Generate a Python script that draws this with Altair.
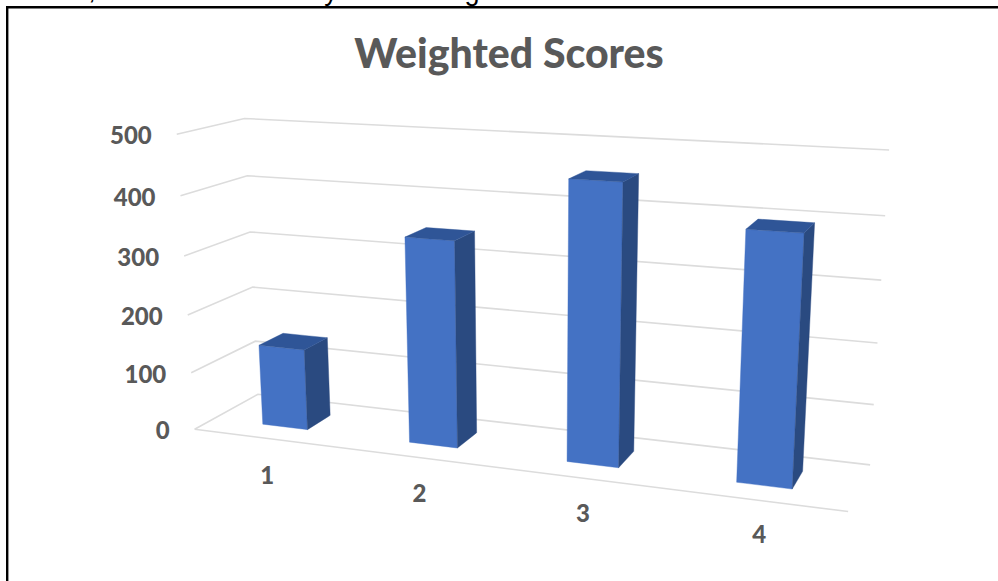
import altair as alt
import numpy as np
import pandas as pd

# Chart values
categories = ["1", "2", "3", "4"]
weighted_scores = [140, 345, 454, 395]
tick_values = [0, 100, 200, 300, 400, 500]
title_text = "Weighted Scores"

# Box proportions for the 3D columns, as fractions of the floor
COLUMN_HALF_WIDTH = 0.039
COLUMN_DEPTH = (0.30, 0.69)

# Camera calibration: (across, depth, value) -> screen position
calibration = [
    (0, 0, 0, 195, 429), (0, 1, 0, 258, 393), (1, 1, 0, 870, 465), (1, 0, 0, 848, 512),
    (0, 0, 500, 177, 134), (0, 1, 500, 245, 118), (1, 1, 500, 889, 150),
    (0, 0, 400, 180, 196), (1, 1, 400, 885, 216), (1, 1, 100, 874, 404),
    (0, 1, 100, 255, 343), (0, 1, 400, 247, 176), (1, 1, 300, 881, 280), (1, 1, 200, 878, 343),
]
rows = []
for u, d, v, px, py in calibration:
    h = [u, d, v / 500, 1]
    rows.append(h + [0, 0, 0, 0] + [-px * c for c in h])
    rows.append([0, 0, 0, 0] + h + [-py * c for c in h])
CAMERA = np.linalg.svd(np.array(rows, dtype=float))[2][-1].reshape(3, 4)


def project(u, d, v):
    q = CAMERA @ np.array([u, d, v / 500, 1.0])
    return float(q[0] / q[2]), float(q[1] / q[2])


def face_rows(corners, name):
    """Turn a convex quad into x / y / y2 rows an area mark can fill."""
    xs = sorted({round(p[0], 3) for p in corners})
    out = []
    n = len(corners)
    for x in xs:
        hits = []
        for i in range(n):
            (x0, y0), (x1, y1) = corners[i], corners[(i + 1) % n]
            lo, hi = min(x0, x1), max(x0, x1)
            if lo - 0.002 <= x <= hi + 0.002:
                if abs(x1 - x0) < 1e-6:
                    hits += [y0, y1]
                else:
                    hits.append(y0 + (y1 - y0) * (x - x0) / (x1 - x0))
        out.append({"face": name, "x": x, "y": min(hits), "y2": max(hits)})
    return out


# Grid lines on the side wall and back wall, plus the floor's front edge
grid = []
for v in tick_values:
    for key, pt in enumerate([(0, 0, v), (0, 1, v), (1, 1, v)]):
        x, y = project(*pt)
        grid.append({"line": f"g{v}", "k": key, "x": x, "y": y})
for key, pt in enumerate([(0, 0, 0), (1, 0, 0)]):
    x, y = project(*pt)
    grid.append({"line": "front", "k": key, "x": x, "y": y})
grid_df = pd.DataFrame(grid)

# Column faces
front, side, top = [], [], []
d0, d1 = COLUMN_DEPTH
for i, value in enumerate(weighted_scores):
    c = (i + 0.5) / len(weighted_scores)
    u0, u1 = c - COLUMN_HALF_WIDTH, c + COLUMN_HALF_WIDTH
    front += face_rows([project(u0, d0, value), project(u1, d0, value),
                        project(u1, d0, 0), project(u0, d0, 0)], f"f{i}")
    side += face_rows([project(u1, d0, value), project(u1, d1, value),
                       project(u1, d1, 0), project(u1, d0, 0)], f"s{i}")
    top += face_rows([project(u0, d0, value), project(u0, d1, value),
                      project(u1, d1, value), project(u1, d0, value)], f"t{i}")

# Tick labels placed relative to the projected axis edges
tick_df = pd.DataFrame([
    {"label": str(v), "x": project(0, 0, v)[0] - 25, "y": project(0, 0, v)[1] + 3}
    for v in tick_values
])
cat_df = pd.DataFrame([
    {"label": name,
     "x": project((i + 0.5) / 4, 0, 0)[0] + 1 + i,
     "y": project((i + 0.5) / 4, 0, 0)[1] + 39 - i}
    for i, name in enumerate(categories)
])
title_df = pd.DataFrame([{"label": title_text, "x": 509, "y": 56}])
clipped_df = pd.DataFrame([
    {"label": ",", "x": 92, "y": -1},
    {"label": "y", "x": 331, "y": 0},
    {"label": "g", "x": 472, "y": 0},
])

X = alt.X("x:Q", axis=None, scale=alt.Scale(domain=[0, 998], range=[0, 998], nice=False, zero=False))
Y = alt.Y("y:Q", axis=None, scale=alt.Scale(domain=[0, 581], range=[0, 581], nice=False, zero=False))


def face_layer(data, color):
    return alt.Chart(pd.DataFrame(data)).mark_area(
        color=color, stroke=color, strokeWidth=0.4, interpolate="linear", orient="vertical"
    ).encode(x=X, y=Y, y2=alt.Y2("y2:Q"), detail="face:N")


def text_layer(data, size, color, font, weight, align="center", baseline="middle"):
    return alt.Chart(data).mark_text(
        fontSize=size, color=color, font=font, fontWeight=weight, align=align, baseline=baseline
    ).encode(x=X, y=Y, text="label:N")


grid_layer = alt.Chart(grid_df).mark_line(color="#dcdcdc", strokeWidth=1.6).encode(
    x=X, y=Y, detail="line:N", order="k:Q"
)
frame_left = alt.Chart(title_df).mark_rule(color="#000000", strokeWidth=2.4).encode(
    x=alt.value(7.2), y=alt.value(7), y2=alt.value(581)
)
frame_top = alt.Chart(title_df).mark_rule(color="#000000", strokeWidth=2.4).encode(
    x=alt.value(6), x2=alt.value(998), y=alt.value(7.2)
)

chart = alt.layer(
    grid_layer,
    face_layer(front, "#4472c4"),
    face_layer(side, "#2a4a80"),
    face_layer(top, "#2f5597"),
    text_layer(tick_df, 24, "#595959", "Lato", 900, align="right"),
    text_layer(cat_df, 24, "#595959", "Lato", 900),
    text_layer(title_df, 41, "#595959", "Lato", 900),
    text_layer(clipped_df, 27, "#000000", "Liberation Sans", "normal", baseline="alphabetic"),
    frame_left,
    frame_top,
).properties(
    width=998, height=581, padding=0, autosize=alt.AutoSizeParams(type="none")
).configure_view(stroke=None)

chart.save("out.html", embed_options={"renderer": "svg", "actions": False})
